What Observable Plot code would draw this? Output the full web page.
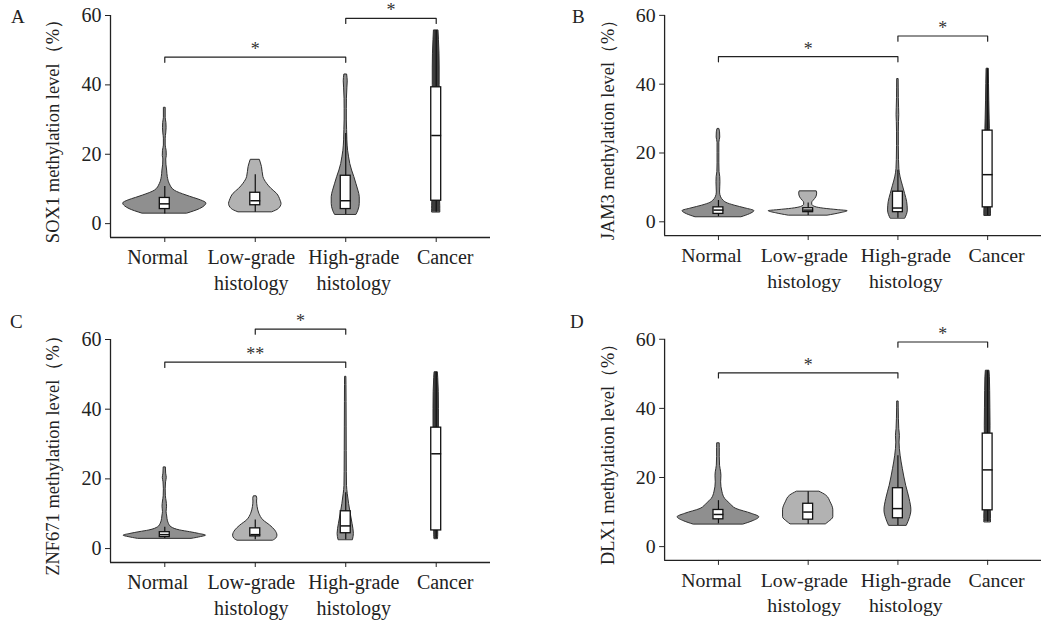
<!DOCTYPE html>
<html>
<head>
<meta charset="utf-8">
<script src="https://cdn.jsdelivr.net/npm/d3@7"></script>
<script src="https://cdn.jsdelivr.net/npm/@observablehq/plot@0.6"></script>
<style>
  html, body { margin: 0; padding: 0; background: #fff; overflow: hidden; }
  #wrap { position: relative; width: 1041px; height: 627px; }
  .panel { position: absolute; }
  .letter { position: absolute; font-family: 'Liberation Serif', 'Times New Roman', serif; font-size: 19px; line-height: 1; color: #222; }
</style>
</head>
<body>
<div id="wrap">
  <div class="letter" style="left:11px;top:7px">A</div>
  <div class="letter" style="left:572px;top:7px">B</div>
  <div class="letter" style="left:10px;top:312px">C</div>
  <div class="letter" style="left:570px;top:312px">D</div>
  <div class="panel" id="pA" style="left:0px;top:0px"></div>
  <div class="panel" id="pB" style="left:555px;top:0px"></div>
  <div class="panel" id="pC" style="left:0px;top:310px"></div>
  <div class="panel" id="pD" style="left:555px;top:310px"></div>
</div>
<script>
// ---------- shared ----------
const categories = ["Normal", "Low-grade\nhistology", "High-grade\nhistology", "Cancer"];
const labelNudge = [-7, -4, 8, 9]; // horizontal nudge of each category label (px)
const yTicks = [0, 20, 40, 60];
const violinFills = ["#8f8f8f", "#b2b2b2", "#8f8f8f", "#3d3d3d"];

// ---------- Panel A: SOX1 ----------  violin profiles: [value, half-width (category units)]
const normalA = [[2.9,0.25],[4.2,0.39],[5.0,0.44],[5.8,0.46],[6.7,0.40],[7.4,0.32],[8.1,0.24],[9.5,0.11],[11.4,0.055],[13.4,0.033],[15.3,0.026],[17,0.018],[18.5,0.016],[19.5,0.022],[21,0.02],[22.5,0.01],[24.5,0.01],[26,0.016],[27.5,0.02],[29,0.018],[30.5,0.01],[33.4,0.01]];
const lowA = [[3.3,0.19],[4.2,0.26],[5.7,0.29],[6.6,0.28],[8.6,0.24],[10,0.18],[11.5,0.13],[13.4,0.09],[16.3,0.074],[18.4,0.05]];
const highA = [[2.6,0.12],[3.75,0.14],[5.7,0.155],[7.6,0.155],[9.5,0.14],[11.5,0.117],[13.4,0.095],[15.3,0.07],[17.2,0.05],[19.1,0.037],[21,0.026],[24,0.018],[27,0.015],[30,0.012],[33,0.012],[36,0.013],[39,0.018],[41,0.022],[43,0.015]];
const cancerA = [[3.3,0.045],[5,0.045],[7,0.042],[10,0.04],[15,0.038],[20,0.036],[25,0.036],[30,0.036],[35,0.037],[40,0.038],[45,0.038],[49,0.036],[53,0.03],[55.7,0.025]];
// boxes: [low whisker, q1, median, q3, high whisker]
const boxesA = [[2.8,4.2,5.7,7.4,10.7],[3.3,5.3,6.6,8.9,14.1],[2.6,4.2,6.6,13.8,26],[3.3,6.6,25.4,39.3,55.7]];
const bracketsA = [{from:0,to:2,at:48,mark:"*"},{from:2,to:3,at:59.2,mark:"*"}];

// ---------- Panel B: JAM3 ----------
const normalB = [[1.35,0.26],[2.2,0.35],[3.1,0.40],[3.9,0.30],[4.7,0.18],[5.5,0.09],[6.2,0.055],[7.1,0.03],[8.5,0.018],[10,0.02],[11.5,0.022],[13,0.02],[14.5,0.012],[17,0.01],[20,0.01],[23,0.01],[24.5,0.02],[26,0.018],[27,0.01]];
const lowB = [[1.8,0.22],[2.5,0.36],[3.1,0.44],[3.4,0.33],[3.8,0.18],[4.3,0.08],[5.0,0.045],[5.6,0.045],[6.1,0.06],[7.1,0.09],[8.2,0.1],[8.85,0.095]];
const highB = [[1.0,0.083],[2,0.1],[3.3,0.11],[5.7,0.103],[8.1,0.08],[10.5,0.055],[12.9,0.03],[15.3,0.016],[18,0.012],[22,0.01],[26,0.01],[29,0.012],[31,0.015],[33,0.013],[36,0.01],[39,0.009],[41.5,0.008]];
const cancerB = [[1.8,0.037],[3,0.037],[4.5,0.035],[10,0.03],[20,0.028],[27,0.025],[30,0.022],[35,0.018],[40,0.015],[44.5,0.012]];
const boxesB = [[1.5,2.3,3.4,4.2,6.2],[1.8,2.8,3.4,3.95,5.5],[1.0,2.8,4.0,8.75,15],[1.8,4.2,13.7,26.5,44.5]];
const bracketsB = [{from:0,to:2,at:48,mark:"*"},{from:2,to:3,at:54,mark:"*"}];

// ---------- Panel C: ZNF671 ----------
const normalC = [[2.8,0.3],[3.3,0.4],[3.7,0.455],[4.2,0.38],[4.7,0.28],[5.2,0.17],[6.1,0.075],[7.1,0.045],[8.5,0.03],[9.5,0.025],[10.5,0.02],[12,0.025],[13.5,0.02],[15,0.012],[17,0.01],[19,0.014],[20.3,0.022],[21.5,0.015],[23.3,0.012]];
const lowC = [[2.3,0.2],[2.8,0.23],[3.7,0.245],[5.2,0.22],[6.6,0.165],[8.1,0.09],[10,0.045],[11.9,0.026],[13.5,0.02],[14.3,0.022],[15,0.015]];
const highC = [[2.5,0.08],[4.2,0.09],[7.1,0.075],[10,0.055],[12.8,0.037],[15.7,0.022],[18,0.014],[22,0.012],[28,0.011],[35,0.01],[42,0.009],[47,0.008],[49.3,0.007]];
const cancerC = [[2.8,0.02],[4,0.022],[5.2,0.022],[15,0.025],[25,0.028],[35,0.03],[40,0.03],[45,0.028],[49,0.022],[50.6,0.018]];
const boxesC = [[2.9,3.3,4.0,4.7,6.1],[2.5,3.5,4.0,5.8,8.2],[2.5,4.4,6.5,10.7,16],[2.8,5.2,27.2,34.7,50.6]];
const bracketsC = [{from:0,to:2,at:53.5,mark:"**"},{from:1,to:2,at:63,mark:"*"}];

// ---------- Panel D: DLX1 ----------
const normalD = [[6.4,0.28],[7.3,0.38],[8.5,0.455],[9.5,0.37],[10.9,0.2],[12.4,0.13],[13.8,0.075],[15.7,0.045],[18.6,0.03],[20.5,0.033],[21.5,0.03],[23.4,0.018],[26,0.015],[28.5,0.015],[29.9,0.014]];
const lowD = [[6.5,0.2],[7.1,0.23],[8.5,0.28],[10.5,0.28],[12.8,0.25],[14.8,0.2],[15.9,0.125]];
const highD = [[6.1,0.10],[8,0.13],[10.5,0.15],[13.8,0.13],[17.6,0.092],[22.4,0.055],[26.3,0.03],[30.1,0.018],[32,0.022],[34,0.015],[37,0.011],[40,0.009],[42,0.008]];
const cancerD = [[7.1,0.037],[9,0.037],[10.5,0.035],[20,0.03],[30,0.03],[35,0.032],[40,0.03],[45,0.028],[49,0.025],[50.9,0.02]];
const boxesD = [[6.6,7.9,9.3,10.6,13.3],[6.5,7.8,10.0,12.4,15.9],[6.1,8.2,11.0,16.9,26.3],[7.1,10.5,22.2,32.7,50.9]];
const bracketsD = [{from:0,to:2,at:50.3,mark:"*"},{from:2,to:3,at:59.2,mark:"*"}];

const xDomain = [-0.6, 3.6];
const yDomain = [-4, 60];
const boxHalf = 0.055;
const drop = 1.5;

function panel({violins, boxes, brackets, ylabel, width, height, marginTop, marginBottom, marginRight}) {
  const marks = [];
  violins.forEach((prof, i) => {
    marks.push(Plot.areaX(prof, {
      y: d => d[0], x1: d => i - d[1], x2: d => i + d[1],
      fill: violinFills[i], stroke: "#2e2e2e", strokeWidth: 1, curve: "monotone-y"
    }));
  });
  marks.push(Plot.ruleX(boxes, {x: (d, i) => i, y1: d => d[0], y2: d => d[4], stroke: "#111", strokeWidth: 1.2}));
  marks.push(Plot.rect(boxes, {x1: (d, i) => i - boxHalf, x2: (d, i) => i + boxHalf, y1: d => d[1], y2: d => d[3], fill: "#fff", stroke: "#111", strokeWidth: 1.3}));
  marks.push(Plot.link(boxes, {x1: (d, i) => i - boxHalf, x2: (d, i) => i + boxHalf, y1: d => d[2], y2: d => d[2], stroke: "#111", strokeWidth: 1.5}));
  const pts = brackets.flatMap((b, k) => [
    {k, x: b.from, y: b.at - drop}, {k, x: b.from, y: b.at},
    {k, x: b.to, y: b.at}, {k, x: b.to, y: b.at - drop}
  ]);
  marks.push(Plot.line(pts, {x: "x", y: "y", z: "k", stroke: "#222", strokeWidth: 1.2}));
  marks.push(Plot.text(brackets, {x: d => (d.from + d.to) / 2, y: "at", text: "mark", lineAnchor: "bottom", dy: -2, fontSize: 18, fill: "#333"}));
  // axes
  marks.push(Plot.ruleX([xDomain[0]], {y1: yDomain[0], y2: yTicks[yTicks.length - 1], stroke: "#222", strokeWidth: 1.3}));
  marks.push(Plot.ruleY([yDomain[0]], {stroke: "#222", strokeWidth: 1.3}));
  marks.push(Plot.axisY({ticks: yTicks, tickSize: 5, tickPadding: 4, label: null, stroke: "#222"}));
  marks.push(Plot.axisX({ticks: [0, 1, 2, 3], tickFormat: () => "", tickSize: 5, label: null, stroke: "#222"}));
  categories.forEach((c, i) => {
    marks.push(Plot.axisX({ticks: [i], tickFormat: () => c, tickSize: 0, tickPadding: 8, lineHeight: 1.3, label: null, dx: labelNudge[i]}));
  });
  marks.push(Plot.text([ylabel], {text: d => d, frameAnchor: "left", textAnchor: "middle", rotate: -90, dx: -57, fontSize: 18.5, fill: "#222"}));
  return Plot.plot({
    width, height, marginLeft: 110, marginRight, marginTop, marginBottom,
    x: {domain: xDomain},
    y: {domain: yDomain},
    style: {fontFamily: "'Liberation Serif', 'Times New Roman', serif", fontSize: "20px", color: "#222", background: "transparent"},
    marks
  });
}

document.getElementById("pA").append(panel({
  violins: [normalA, lowA, highA, cancerA], boxes: boxesA, brackets: bracketsA,
  ylabel: "SOX1 methylation level（%）", width: 520, height: 310, marginTop: 15, marginBottom: 73, marginRight: 30
}));
document.getElementById("pB").append(panel({
  violins: [normalB, lowB, highB, cancerB], boxes: boxesB, brackets: bracketsB,
  ylabel: "JAM3 methylation level（%）", width: 490, height: 310, marginTop: 15, marginBottom: 73, marginRight: 0
}));
document.getElementById("pC").append(panel({
  violins: [normalC, lowC, highC, cancerC], boxes: boxesC, brackets: bracketsC,
  ylabel: "ZNF671 methylation level（%）", width: 520, height: 317, marginTop: 29, marginBottom: 65, marginRight: 30
}));
document.getElementById("pD").append(panel({
  violins: [normalD, lowD, highD, cancerD], boxes: boxesD, brackets: bracketsD,
  ylabel: "DLX1 methylation level（%）", width: 490, height: 317, marginTop: 29, marginBottom: 65, marginRight: 0
}));
</script>
</body>
</html>
